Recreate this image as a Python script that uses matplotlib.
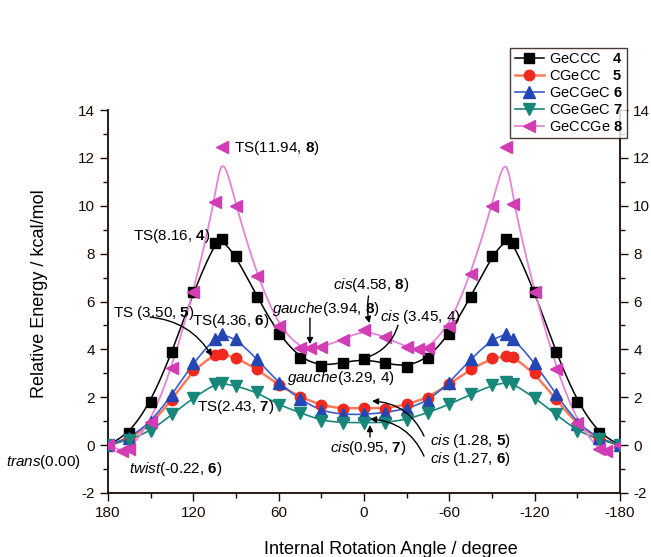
import numpy as np
import matplotlib
matplotlib.use("Agg")
from matplotlib import pyplot as plt

plt.rcParams["font.family"] = "Liberation Sans"
plt.rcParams["mathtext.fontset"] = "custom"
plt.rcParams["mathtext.rm"] = "Liberation Sans"
plt.rcParams["mathtext.it"] = "Liberation Sans:italic"
plt.rcParams["mathtext.bf"] = "Liberation Sans:bold"
plt.rcParams["axes.unicode_minus"] = False

# torsion angles (deg) and relative energies (kcal/mol)
ang = [180, 165, 150, 135, 120, 105, 100, 90, 75, 60, 45, 30, 15, 0,
       -15, -30, -45, -60, -75, -90, -100, -105, -120, -135, -150, -165, -180]
ang_8 = [180, 170, 165, 150, 135, 120, 105, 100, 90, 75, 60, 45, 38, 30, 15, 0,
         -15, -30, -38, -45, -60, -75, -90, -100, -105, -120, -135, -150, -165, -170, -180]

e_4 = [0, 0.49, 1.79, 3.87, 6.39, 8.44, 8.60, 7.90, 6.17, 4.63, 3.63, 3.30, 3.45, 3.59,
       3.42, 3.28, 3.62, 4.63, 6.20, 7.90, 8.60, 8.44, 6.40, 3.87, 1.79, 0.49, 0]
e_5 = [0, 0.25, 0.85, 1.90, 3.15, 3.78, 3.82, 3.65, 3.17, 2.50, 2.02, 1.66, 1.52, 1.56,
       1.52, 1.70, 1.98, 2.55, 3.17, 3.63, 3.72, 3.68, 3.00, 1.91, 0.85, 0.25, 0]
e_6 = [0, 0.30, 0.95, 2.10, 3.45, 4.45, 4.63, 4.45, 3.58, 2.60, 1.91, 1.42, 1.28, 1.28,
       1.36, 1.52, 1.84, 2.61, 3.59, 4.42, 4.66, 4.45, 3.45, 2.12, 0.90, 0.28, 0]
e_7 = [0, 0.22, 0.59, 1.28, 1.98, 2.54, 2.58, 2.48, 2.20, 1.68, 1.36, 1.02, 0.94, 0.94,
       0.94, 1.07, 1.36, 1.70, 2.12, 2.50, 2.62, 2.56, 1.98, 1.28, 0.59, 0.24, 0]
e_8 = [0, -0.26, -0.18, 0.95, 3.24, 6.40, 10.15, 12.45, 9.98, 7.05, 4.96, 4.07, 4.07, 4.10, 4.40, 4.83,
       4.50, 4.10, 4.00, 4.07, 4.98, 7.14, 10.00, 12.44, 10.07, 6.38, 3.20, 0.94, -0.18, -0.26, 0]

labels = ["GeCCC   $\\mathbf{4}$", "CGeCC   $\\mathbf{5}$", "GeCGeC $\\mathbf{6}$",
          "CGeGeC $\\mathbf{7}$", "GeCCGe $\\mathbf{8}$"]


def bspline(x, y, n=25):
    # uniform cubic B-spline through the data as control points (ends clamped)
    P = np.column_stack([x, y]).astype(float)
    P = np.vstack([P[0], P[0], P, P[-1], P[-1]])
    t = np.linspace(0, 1, n)[:, None]
    b0 = (1 - t) ** 3 / 6
    b1 = (3 * t ** 3 - 6 * t ** 2 + 4) / 6
    b2 = (-3 * t ** 3 + 3 * t ** 2 + 3 * t + 1) / 6
    b3 = t ** 3 / 6
    segs = [b0 * P[i] + b1 * P[i + 1] + b2 * P[i + 2] + b3 * P[i + 3] for i in range(len(P) - 3)]
    c = np.vstack(segs)
    return c[:, 0], c[:, 1]


fig = plt.figure(figsize=(6.51, 5.57), dpi=100)
ax = fig.add_axes([108 / 651, 64 / 557, 512 / 651, 383 / 557])

series = [
    (ang, e_4, "s", "#000000", "#000000", 7.5, 1.1),
    (ang, e_5, "o", "#f0281e", "#ff7a5a", 7.5, 1.8),
    (ang, e_6, "^", "#2446b4", "#3a5cd0", 8.5, 1.2),
    (ang, e_7, "v", "#16877a", "#16877a", 8.5, 1.2),
    (ang_8, e_8, "<", "#d23cb4", "#e683da", 8.5, 1.3),
]

handles = []
for (x, y, m, mc, lc, ms, lw), lab in zip(series, labels):
    sx, sy = bspline(x, y)
    ax.plot(sx, sy, color=lc, lw=lw, zorder=2)
    ax.plot(x, y, ls="none", marker=m, ms=ms, color=mc, mec=mc, zorder=3)
    h, = ax.plot([], [], color=lc, lw=lw, marker=m, ms=ms, mfc=mc, mec=mc)
    handles.append(h)

ax.set_xlim(180, -180)
ax.set_ylim(-2, 14)
ax.set_xticks([180, 120, 60, 0, -60, -120, -180])
ax.set_xticks(np.arange(-150, 180, 60), minor=True)
ax.set_yticks(np.arange(-2, 15, 2))
ax.set_yticks(np.arange(-1, 14, 2), minor=True)
ax.tick_params(which="both", direction="out", right=True, labelright=True,
               labelsize=11, width=1, colors="#1a0a00")
ax.tick_params(which="major", length=6)
ax.tick_params(which="minor", length=3.5)
ax.spines["top"].set_visible(False)
for s in ["left", "bottom", "right"]:
    ax.spines[s].set_linewidth(1.3)
    ax.spines[s].set_color("#1a0a00")

ax.set_xlabel("Internal Rotation Angle / degree", fontsize=13)
ax.xaxis.set_label_coords(0.553, -0.125)
ax.set_ylabel("Relative Energy / kcal/mol", fontsize=13)
ax.yaxis.set_label_coords(-0.118, 0.52)

leg = ax.legend(handles, labels, loc="upper right", bbox_to_anchor=(1.014, 1.162),
                fontsize=10.5, frameon=True, fancybox=False, handlelength=2.0,
                handletextpad=0.35, borderpad=0.3, labelspacing=0.2, borderaxespad=0)
leg.get_frame().set_edgecolor("#1a0a00")
leg.get_frame().set_linewidth(1.0)
leg.set_zorder(10)

fs = 11
kw = dict(fontsize=fs, ha="left", va="center", zorder=5)
ax.text(91.4, 12.43, "TS(11.94, $\\mathbf{8}$)", **kw)
ax.text(162.4, 8.73, "TS(8.16, $\\mathbf{4}$)", **kw)
ax.text(176.5, 5.52, "TS (3.50, $\\mathbf{5}$)", **kw)
ax.text(120.9, 5.18, "TS(4.36, $\\mathbf{6}$)", **kw)
ax.text(117.4, 1.59, "TS(2.43, $\\mathbf{7}$)", **kw)
ax.text(64.7, 5.68, "$\\it{gauche}$(3.94, $\\mathbf{8}$)", **kw)
ax.text(21.8, 6.68, "$\\it{cis}$(4.58, $\\mathbf{8}$)", **kw)
ax.text(-11.3, 5.35, "$\\it{cis}$ (3.45, 4)", **kw)
ax.text(54.1, 2.80, "$\\it{gauche}$(3.29, 4)", **kw)
ax.text(23.9, -0.12, "$\\it{cis}$(0.95, $\\mathbf{7}$)", **kw)
ax.text(-46.4, 0.17, "$\\it{cis}$ (1.28, $\\mathbf{5}$)", **kw)
ax.text(-46.4, -0.58, "$\\it{cis}$ (1.27, $\\mathbf{6}$)", **kw)
ax.text(165.2, -1.0, "$\\it{twist}$(-0.22, $\\mathbf{6}$)", **kw)
ax.text(252.0, -0.71, "$\\it{trans}$(0.00)", clip_on=False, **kw)

ap = dict(arrowstyle="-|>", color="black", lw=1.0, mutation_scale=9, shrinkA=0, shrinkB=0)
ax.annotate("", xy=(106.9, 3.72), xytext=(150.5, 5.35),
            arrowprops=dict(ap, connectionstyle="arc3,rad=-0.25"))
ax.annotate("", xy=(38, 4.22), xytext=(38, 5.31), arrowprops=ap)
ax.annotate("", xy=(-3.8, 5.10), xytext=(-3.2, 6.23),
            arrowprops=dict(ap, connectionstyle="arc3,rad=0.1"))
ax.annotate("", xy=(-2.8, 3.68), xytext=(-23.9, 5.01),
            arrowprops=dict(arrowstyle="-", color="black", lw=1.0, shrinkA=0, shrinkB=0,
                            connectionstyle="arc3,rad=-0.25"))
ax.annotate("", xy=(-4.2, 0.84), xytext=(-4.2, 0.34), arrowprops=ap)
ax.annotate("", xy=(-5.6, 1.84), xytext=(-42.2, 0.38),
            arrowprops=dict(ap, connectionstyle="arc3,rad=0.3"))
ax.annotate("", xy=(-4.2, 1.09), xytext=(-42.2, -0.46),
            arrowprops=dict(ap, connectionstyle="arc3,rad=0.3"))

fig.savefig("out.png", dpi=100)
